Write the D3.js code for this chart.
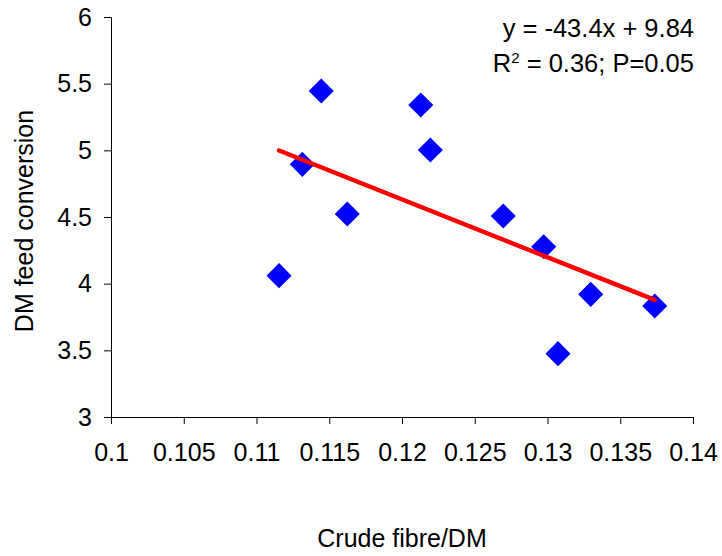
<!DOCTYPE html>
<html>
<head>
<meta charset="utf-8">
<script src="https://cdn.jsdelivr.net/npm/d3@7"></script>
<style>
  body { margin: 0; background: #fff; }
  svg { display: block; font-family: "Liberation Sans", Arial, sans-serif; }
</style>
</head>
<body>
<svg width="722" height="556"></svg>
<script>
  // crude fibre / DM (x) and DM feed conversion (y)
  var fibre = [0.11155, 0.11315, 0.11445, 0.11624, 0.12129, 0.12195, 0.12696, 0.12974, 0.13072, 0.13297, 0.13737];
  var conversion = [4.06, 4.895, 5.445, 4.5225, 5.34, 5.0025, 4.5075, 4.277, 3.475, 3.92, 3.8325];

  var xTicks = [0.1, 0.105, 0.11, 0.115, 0.12, 0.125, 0.13, 0.135, 0.14];
  var yTicks = [3, 3.5, 4, 4.5, 5, 5.5, 6];

  var slope = -43.4,
    intercept = 9.84;
  var annotation = ["y = -43.4x + 9.84", "R2 = 0.36; P=0.05"];

  var svg = d3.select("svg"),
    plotLeft = 111,
    plotRight = 693,
    plotTop = 17,
    plotBottom = 417;

  var x = d3.scaleLinear().domain([0.1, 0.14]).range([plotLeft, plotRight]);
  var y = d3.scaleLinear().domain([3, 6]).range([plotBottom, plotTop]);

  svg
    .append("g")
    .attr("transform", "translate(0," + plotBottom + ")")
    .call(
      d3
        .axisBottom(x)
        .tickValues(xTicks)
        .tickSizeOuter(0)
        .tickSize(7)
        .tickPadding(19)
        .tickFormat(function (d) {
          return String(+d.toFixed(3));
        })
    );

  svg
    .append("g")
    .attr("transform", "translate(" + plotLeft + ",0)")
    .call(
      d3
        .axisLeft(y)
        .tickValues(yTicks)
        .tickSizeOuter(0)
        .tickSize(7)
        .tickPadding(12)
        .tickFormat(function (d) {
          return String(d);
        })
    );

  svg.selectAll(".tick text").style("font-size", "25px").attr("fill", "#000");
  svg.selectAll(".domain, .tick line").attr("stroke", "#000");

  var points = fibre.map(function (d, i) {
    return { x: d, y: conversion[i] };
  });

  svg
    .append("g")
    .selectAll("path")
    .data(points)
    .enter()
    .append("path")
    .attr("d", d3.symbol(d3.symbolSquare).size(315))
    .attr("transform", function (d) {
      return "translate(" + x(d.x) + "," + y(d.y) + ") rotate(45)";
    })
    .attr("fill", "#0000ff");

  // trend line over the data range
  var xMin = d3.min(fibre),
    xMax = d3.max(fibre);
  svg
    .append("line")
    .attr("x1", x(xMin))
    .attr("y1", y(slope * xMin + intercept))
    .attr("x2", x(xMax))
    .attr("y2", y(slope * xMax + intercept))
    .attr("stroke", "#ff0000")
    .attr("stroke-width", 4.5)
    .attr("stroke-linecap", "round");

  svg
    .append("text")
    .attr("x", 694)
    .attr("y", 37)
    .attr("text-anchor", "end")
    .style("font-size", "25.5px")
    .text(annotation[0]);

  var r2 = svg
    .append("text")
    .attr("x", 694)
    .attr("y", 72)
    .attr("text-anchor", "end")
    .style("font-size", "25.5px");
  r2.append("tspan").text("R");
  r2.append("tspan").attr("dy", -9).style("font-size", "15px").text("2");
  r2.append("tspan").attr("dy", 9).text(" = 0.36; P=0.05");

  svg
    .append("text")
    .attr("x", (plotLeft + plotRight) / 2)
    .attr("y", 547)
    .attr("text-anchor", "middle")
    .style("font-size", "25px")
    .text("Crude fibre/DM");

  svg
    .append("text")
    .attr("transform", "translate(33,221) rotate(-90)")
    .attr("text-anchor", "middle")
    .style("font-size", "25px")
    .text("DM feed conversion");
</script>
</body>
</html>
